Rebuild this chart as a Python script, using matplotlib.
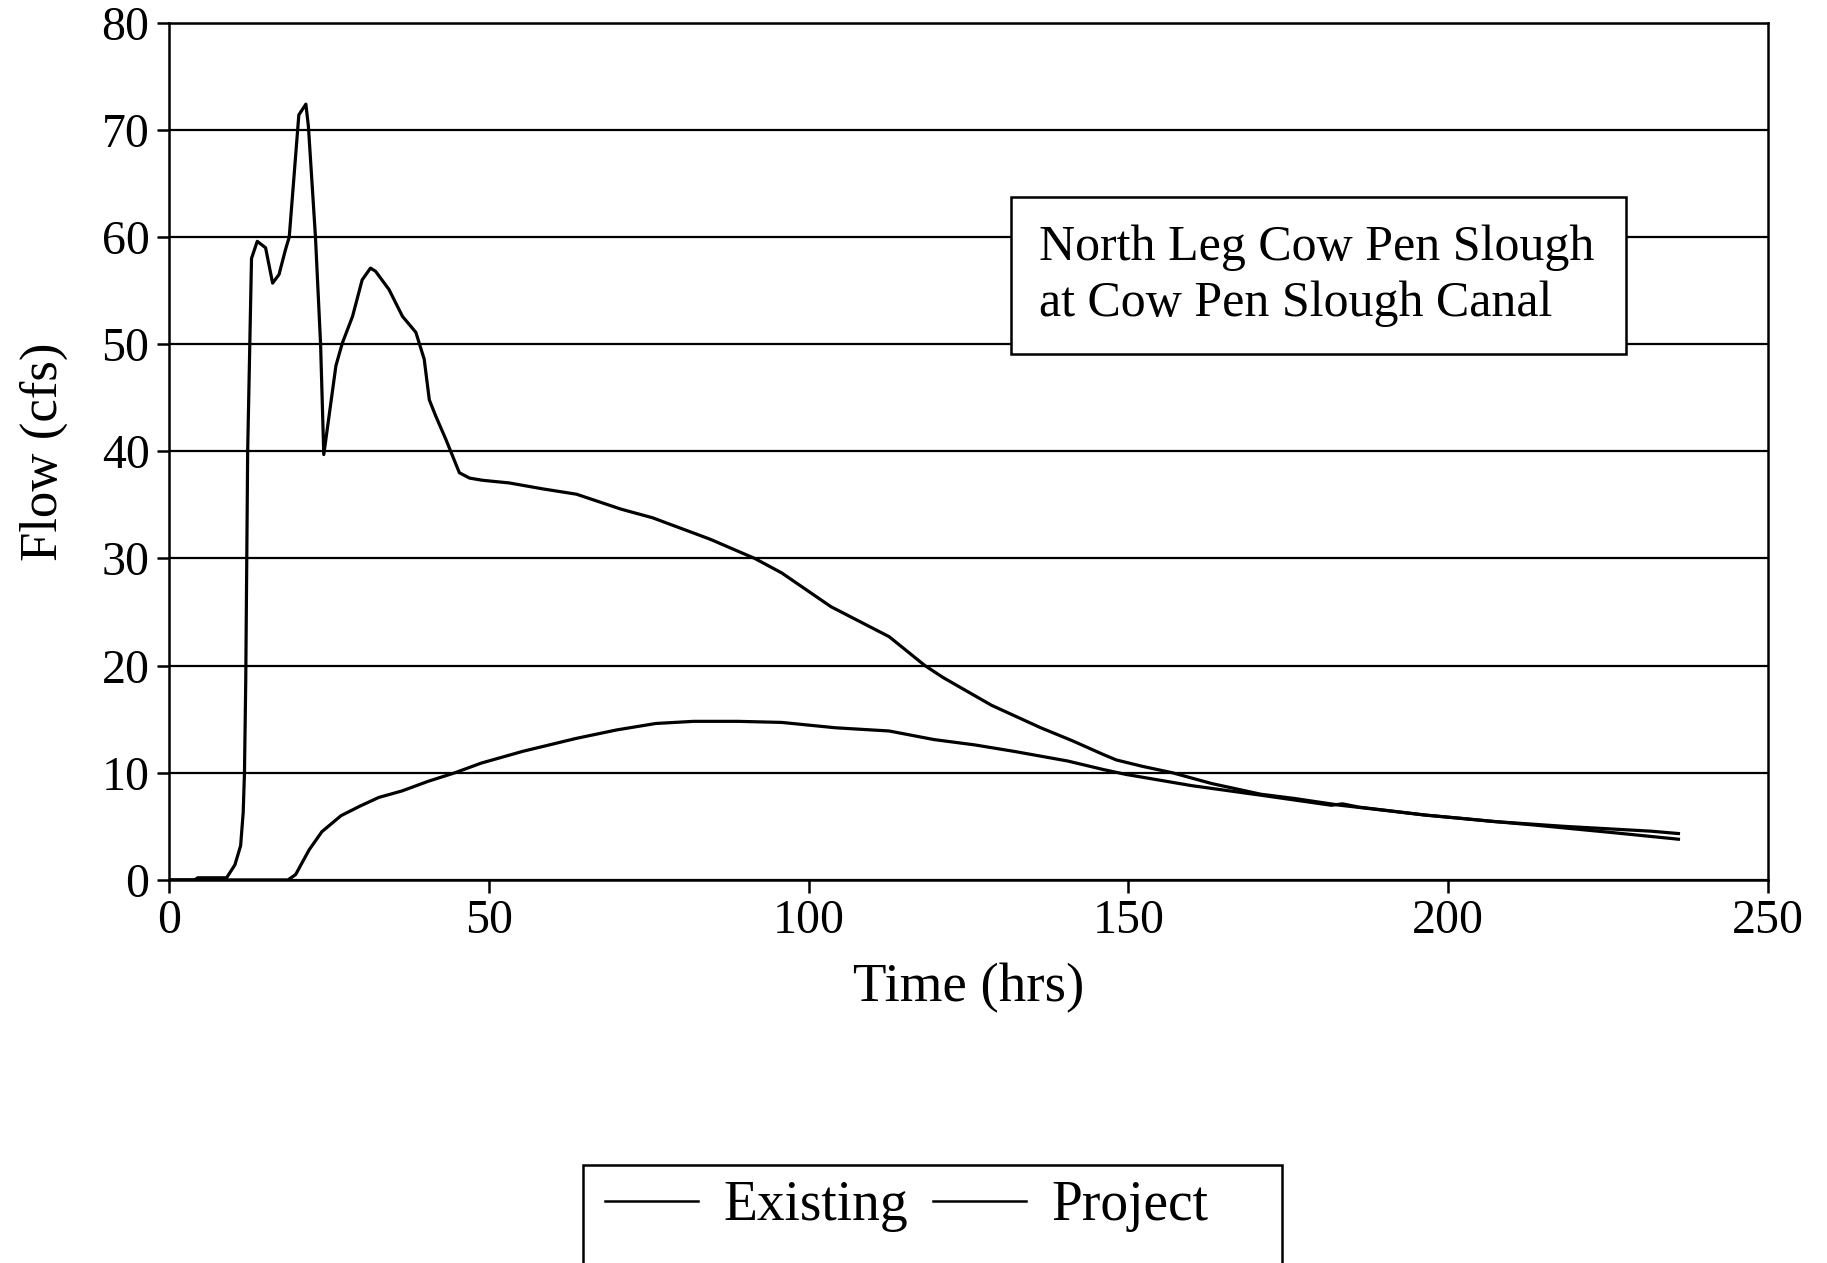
import matplotlib
matplotlib.use('Agg')
import matplotlib.pyplot as plt
from matplotlib.patches import Rectangle
from matplotlib.lines import Line2D

plt.rcParams['font.family'] = ['Liberation Serif', 'DejaVu Serif']

existing_t = [0, 4, 4.5, 9, 10.3, 11.2, 11.6, 11.8, 12.0, 12.3, 12.9, 13.8, 15.1, 16.2, 17.2,
              18.2, 18.8, 20.3, 21.4, 21.8, 22.9, 23.7, 24.2, 25.3, 26.1, 27.1, 28.7, 30.2,
              31.5, 32.3, 34.4, 36.5, 38.6, 39.9, 40.7, 41.7, 43.3, 45.4, 47.0, 49.0, 53.2,
              58.4, 63.7, 70.7, 75.6, 84.6, 91.6, 95.8, 103.5, 112.6, 118.2, 121, 128.6,
              136.3, 141.2, 146.1, 148.1, 152.2, 156.9, 163, 170.7, 176, 183.1, 190, 196.3,
              202, 207.2, 213, 218.2, 226, 236]
existing_q = [0, 0, 0.2, 0.2, 1.4, 3.2, 6.3, 10, 18.6, 40, 58, 59.6, 59.0, 55.7, 56.5,
              58.8, 60, 71.4, 72.4, 70.3, 60, 50, 39.7, 44.5, 48, 50.1, 52.6, 56,
              57.1, 56.8, 55.1, 52.6, 51.1, 48.6, 44.8, 43.3, 41.1, 38.0, 37.5, 37.3, 37.05,
              36.5, 36.0, 34.6, 33.8, 31.8, 30, 28.65, 25.5, 22.7, 20, 18.9, 16.3,
              14.2, 13.0, 11.7, 11.2, 10.6, 10.0, 9.0, 8.0, 7.6, 6.97, 6.5, 6.06,
              5.75, 5.45, 5.15, 4.85, 4.4, 3.8]

project_t = [0, 18.6, 19.8, 21.9, 23.9, 26.9, 29.9, 32.8, 36.4, 40.5, 44.7, 48.8, 55.3,
             63.6, 70, 76.1, 82, 89, 95.8, 104.2, 112.6, 119.6, 126, 132.1, 140.5, 146.1,
             149.6, 159.9, 170.8, 181.7, 183.5, 186, 196.3, 207.2, 218.2, 231.7, 236]
project_q = [0, 0, 0.5, 2.8, 4.5, 6.0, 6.9, 7.7, 8.3, 9.2, 10.0, 10.9, 12.0,
             13.2, 14.0, 14.6, 14.8, 14.8, 14.7, 14.2, 13.9, 13.1, 12.6, 12.0, 11.1, 10.3,
             9.85, 8.8, 7.9, 6.97, 7.1, 6.8, 6.06, 5.45, 5.0, 4.55, 4.33]

x_ticks = [0, 50, 100, 150, 200, 250]
y_ticks = [0, 10, 20, 30, 40, 50, 60, 70, 80]

fig = plt.figure(figsize=(18.27, 12.63), dpi=100)
ax = fig.add_axes([0.0925, 0.3033, 0.8752, 0.6787])

ax.plot(existing_t, existing_q, color='black', lw=2.3, label='Existing', zorder=3)
ax.plot(project_t, project_q, color='black', lw=2.3, label='Project', zorder=3)

ax.set_xlim(0, 250)
ax.set_ylim(0, 80)
ax.set_xticks(x_ticks)
ax.set_yticks(y_ticks)
ax.yaxis.grid(True, color='black', lw=1.6)
ax.set_axisbelow(True)
for s in ax.spines.values():
    s.set_linewidth(1.8)
ax.tick_params(direction='out', length=9, width=1.8, labelsize=34.5, pad=5)

ax.set_xlabel('Time (hrs)', fontsize=39.5, labelpad=14)
ax.set_ylabel('Flow (cfs)', fontsize=38, labelpad=24)

# site label box
ax.add_patch(Rectangle((131.7, 49.1), 96.1, 14.6, facecolor='white', edgecolor='black',
                       lw=1.8, zorder=4))
ax.text(136.1, 56.4, 'North Leg Cow Pen Slough\nat Cow Pen Slough Canal', fontsize=36,
        va='center', ha='left', linespacing=1.27, zorder=5)

# legend, frame runs off the bottom of the page
handles = [Line2D([], [], color='black', lw=1.8), Line2D([], [], color='black', lw=1.8)]
fig.legend(handles, ['Existing', 'Project'], loc='center left', bbox_to_anchor=(0.316, 0.045),
           ncol=2, frameon=False, fontsize=40, borderpad=0, handlelength=1.68,
           handletextpad=0.45, columnspacing=0.45)
fig.patches.append(Rectangle((0.319, -0.05), 0.3826, 0.1276, transform=fig.transFigure,
                             fill=False, edgecolor='black', lw=1.8, figure=fig))

fig.savefig('out.png', dpi=100)
